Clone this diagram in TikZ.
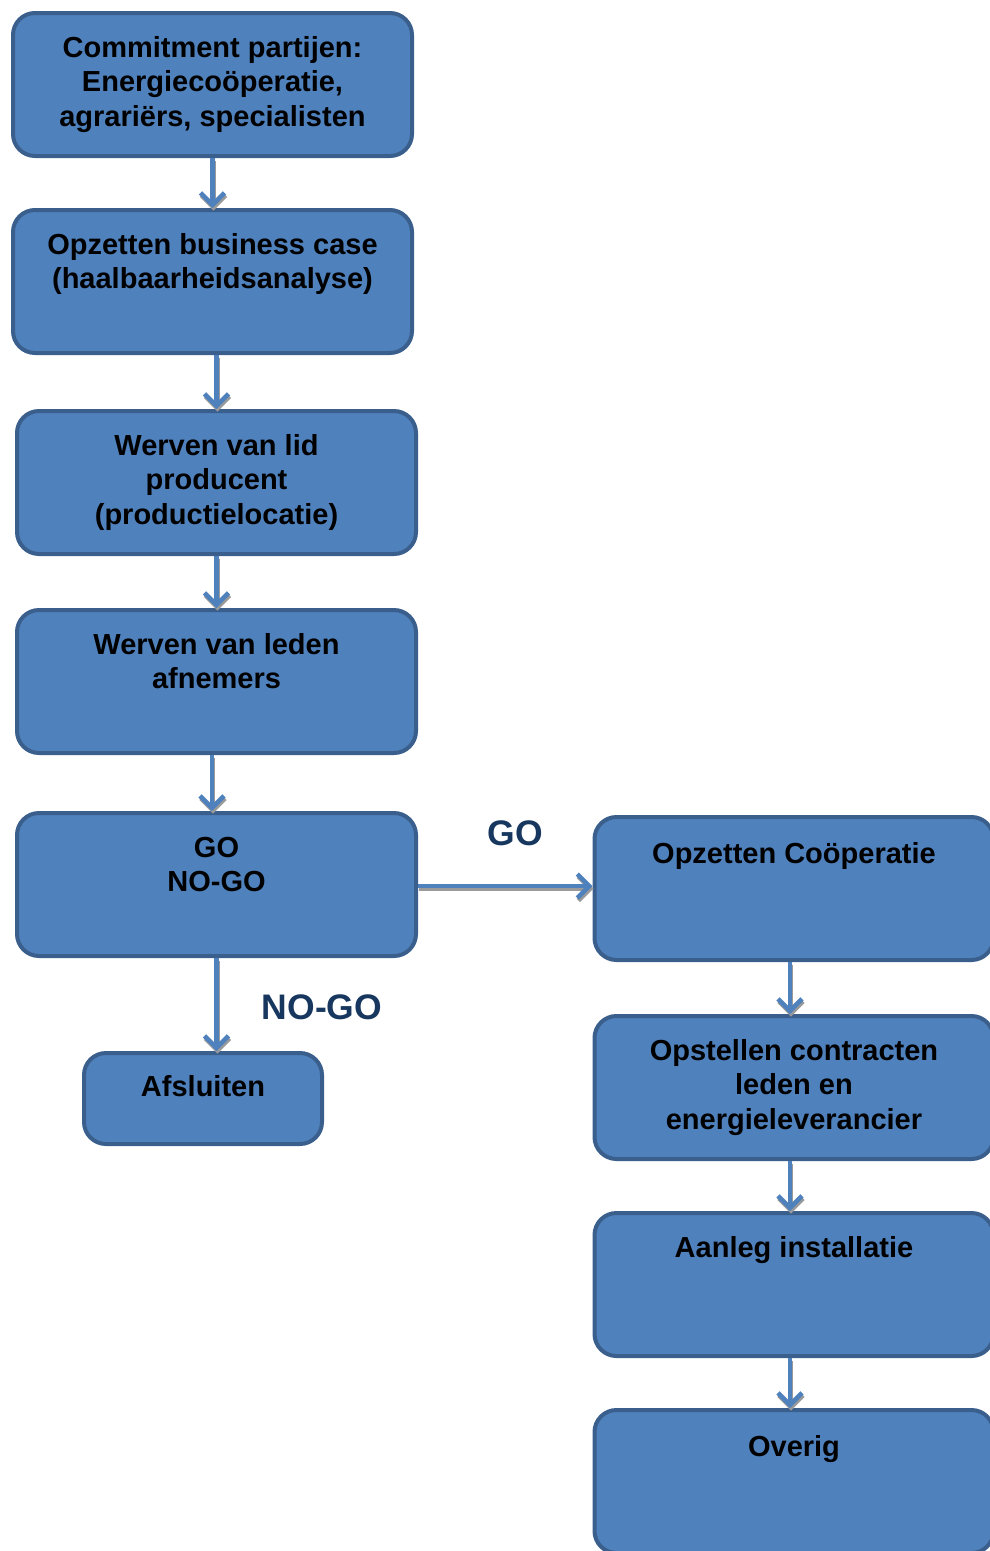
\documentclass[tikz,border=0pt]{standalone}
\usepackage{fontspec}
\setmainfont{Liberation Sans}
\usetikzlibrary{arrows.meta}
\definecolor{boxfill}{HTML}{4F81BD}
\definecolor{boxline}{HTML}{3A5F8C}
\definecolor{lblblue}{HTML}{17375E}
\definecolor{shadowgray}{HTML}{9A9A9A}
\newcommand{\boxtext}[3]{\parbox[c][#1pt][t]{395pt}{\centering\fontsize{29}{34.5}\selectfont\bfseries\rule{0pt}{#2pt}#3}}
\tikzset{
  flowbox/.style={draw=boxline, line width=4pt, fill=boxfill, rounded corners=22pt,
    inner sep=0pt, minimum width=399pt, minimum height=143pt},
  smallbox/.style={flowbox, minimum width=238pt, minimum height=91pt},
  flowarrow/.style={draw=boxfill, line width=4.5pt, -{Straight Barb[length=12pt,width=24pt,line width=4.5pt]}},
  shadowarrow/.style={draw=shadowgray, line width=4.5pt, -{Straight Barb[length=12pt,width=24pt,line width=4.5pt]},
    transform canvas={shift={(1pt,-2.5pt)}}},
  golabel/.style={text=lblblue, font=\fontsize{35.5}{40}\selectfont\bfseries, inner sep=0pt}
}
\begin{document}
\begin{tikzpicture}[x=1pt,y=-1pt]
\useasboundingbox (0,0) rectangle (989,1551);
\node[flowbox] (b1) at (212.5,84.5) {\boxtext{143}{44}{Commitment partijen:\\Energiecoöperatie,\\agrariërs, specialisten}};
\node[flowbox] (b2) at (212.5,281.5) {\boxtext{143}{44}{Opzetten business case\\(haalbaarheidsanalyse)}};
\node[flowbox] (b3) at (216.5,482.5) {\boxtext{143}{44}{Werven van lid\\producent\\(productielocatie)}};
\node[flowbox] (b4) at (216.5,681.5) {\boxtext{143}{44}{Werven van leden\\afnemers}};
\node[flowbox] (b5) at (216.5,884.5) {\boxtext{143}{44}{GO\\NO-GO}};
\node[smallbox] (b6) at (203,1098.5) {\parbox[c][91pt][t]{230pt}{\centering\fontsize{29}{34.5}\selectfont\bfseries\rule{0pt}{43pt}Afsluiten}};
\node[flowbox] (c1) at (794,888.5) {\boxtext{143}{46}{Opzetten Coöperatie}};
\node[flowbox] (c2) at (794,1087.5) {\boxtext{143}{44}{Opstellen contracten\\leden en\\energieleverancier}};
\node[flowbox] (c3) at (794,1284.5) {\boxtext{143}{44}{Aanleg installatie}};
\node[flowbox] (c4) at (794,1481.5) {\boxtext{143}{46}{Overig}};

\node[golabel] (go) at (515,833) {GO};
\node[golabel] (nogo) at (322,1007) {NO-GO};

% shadows
\draw[shadowarrow] (b1.south) -- (b2.north);
\draw[shadowarrow] (b2.south -| b3.north) -- (b3.north);
\draw[shadowarrow] (b3.south) -- (b4.north);
\draw[shadowarrow] ([xshift=-4.5pt]b4.south) -- ([xshift=-4.5pt]b5.north);
\draw[shadowarrow] (b5.south) -- (b5.south |- b6.north);
\draw[shadowarrow] (b5.east |- 0,886) -- (c1.west |- 0,886);
\draw[shadowarrow] ([xshift=-4pt]c1.south) -- ([xshift=-4pt]c2.north);
\draw[shadowarrow] ([xshift=-4pt]c2.south) -- ([xshift=-4pt]c3.north);
\draw[shadowarrow] ([xshift=-4pt]c3.south) -- ([xshift=-4pt]c4.north);
% arrows
\draw[flowarrow] (b1.south) -- (b2.north);
\draw[flowarrow] (b2.south -| b3.north) -- (b3.north);
\draw[flowarrow] (b3.south) -- (b4.north);
\draw[flowarrow] ([xshift=-4.5pt]b4.south) -- ([xshift=-4.5pt]b5.north);
\draw[flowarrow] (b5.south) -- (b5.south |- b6.north);
\draw[flowarrow] (b5.east |- 0,886) -- (c1.west |- 0,886);
\draw[flowarrow] ([xshift=-4pt]c1.south) -- ([xshift=-4pt]c2.north);
\draw[flowarrow] ([xshift=-4pt]c2.south) -- ([xshift=-4pt]c3.north);
\draw[flowarrow] ([xshift=-4pt]c3.south) -- ([xshift=-4pt]c4.north);
\end{tikzpicture}
\end{document}
